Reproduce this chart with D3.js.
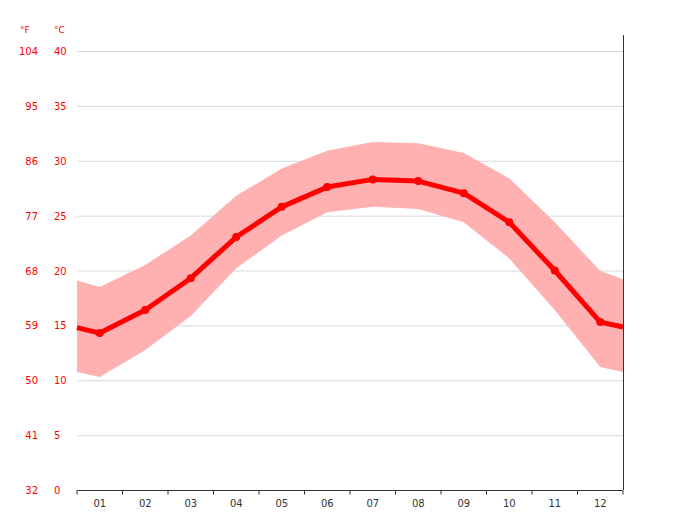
<!DOCTYPE html>
<html><head><meta charset="utf-8">
<script src="https://cdn.jsdelivr.net/npm/d3@7"></script>
<style>body{margin:0;background:#fff}text{font-family:"DejaVu Sans",sans-serif}</style>
</head><body><svg id="chart" width="700" height="524"></svg>
<script>
// data
const months = ["01","02","03","04","05","06","07","08","09","10","11","12"]
const meanTemp = [14.3, 16.4, 19.3, 23.05, 25.8, 27.6, 28.3, 28.15, 27.05, 24.4, 20.0, 15.3]
const maxTemp = [18.5, 20.5, 23.2, 26.8, 29.3, 30.9, 31.7, 31.6, 30.7, 28.4, 24.4, 19.95]
const minTemp = [10.3, 12.75, 15.85, 20.2, 23.2, 25.3, 25.8, 25.6, 24.4, 21.1, 16.4, 11.2]
// values at the left and right edges of the plot (half a month outside)
const edgeMean = [14.8, 14.85]
const edgeMax = [19.1, 19.2]
const edgeMin = [10.75, 10.75]
const cTicks = [0, 5, 10, 15, 20, 25, 30, 35, 40]
const fTicks = [32, 41, 50, 59, 68, 77, 86, 95, 104]

const svg = d3.select("#chart")
const plotLeft = 77, plotRight = 623, plotTop = 51, plotBottom = 490

const x = d3.scaleLinear().domain([-0.5, 11.5]).range([plotLeft, plotRight])
const y = d3.scaleLinear().domain([0, 40]).range([plotBottom, plotTop])

// extended series with edge points
const idx = [-0.5, ...months.map((m, i) => i), 11.5]
const ext = (edge, arr) => [edge[0], ...arr, edge[1]]
const meanExt = ext(edgeMean, meanTemp)
const maxExt = ext(edgeMax, maxTemp)
const minExt = ext(edgeMin, minTemp)

// gridlines
svg.append("g").selectAll("line").data(cTicks.slice(1)).join("line")
    .attr("x1", plotLeft).attr("x2", plotRight)
    .attr("y1", d => y(d) + 0.5).attr("y2", d => y(d) + 0.5)
    .attr("stroke", "#d8d8d8").attr("stroke-width", 1)

// band
svg.append("path")
    .datum(idx)
    .attr("d", d3.area().x(d => x(d)).y0((d, i) => y(minExt[i])).y1((d, i) => y(maxExt[i])))
    .attr("fill", "#ffb0b0")

// mean line
svg.append("path")
    .datum(idx)
    .attr("d", d3.line().x(d => x(d)).y((d, i) => y(meanExt[i])))
    .attr("fill", "none").attr("stroke", "#ff0000").attr("stroke-width", 5)
    .attr("stroke-linejoin", "round")

svg.append("g").selectAll("circle").data(meanTemp).join("circle")
    .attr("cx", (d, i) => x(i)).attr("cy", d => y(d)).attr("r", 4)
    .attr("fill", "#ff0000")

// axes lines
svg.append("line").attr("x1", plotRight + 0.5).attr("x2", plotRight + 0.5).attr("y1", 35).attr("y2", plotBottom)
    .attr("stroke", "#333")
const xAxis = svg.append("g").attr("transform", `translate(0,${plotBottom + 0.5})`)
xAxis.append("line").attr("x1", plotLeft).attr("x2", plotRight).attr("stroke", "#333")
xAxis.selectAll("line.tick").data(d3.range(-0.5, 12, 1)).join("line")
    .attr("class", "tick")
    .attr("x1", d => x(d)).attr("x2", d => x(d)).attr("y1", 0).attr("y2", 4)
    .attr("stroke", "#333")
xAxis.selectAll("text").data(months).join("text")
    .attr("x", (d, i) => x(i)).attr("y", 16)
    .attr("text-anchor", "middle").attr("font-size", 10).attr("fill", "#333")
    .text(d => d)

// y labels
svg.append("g").selectAll("text").data(cTicks).join("text")
    .attr("x", 54).attr("y", d => y(d) + 4)
    .attr("font-size", 10).attr("fill", "#ff0000")
    .text(d => d)
svg.append("g").selectAll("text").data(fTicks).join("text")
    .attr("x", 38).attr("y", (d, i) => y(cTicks[i]) + 4)
    .attr("text-anchor", "end")
    .attr("font-size", 10).attr("fill", "#ff0000")
    .text(d => d)
svg.append("text").attr("x", 20).attr("y", 33).attr("font-size", 9).attr("fill", "#ff0000").text("°F")
svg.append("text").attr("x", 54).attr("y", 33).attr("font-size", 9).attr("fill", "#ff0000").text("°C")
</script></body></html>
